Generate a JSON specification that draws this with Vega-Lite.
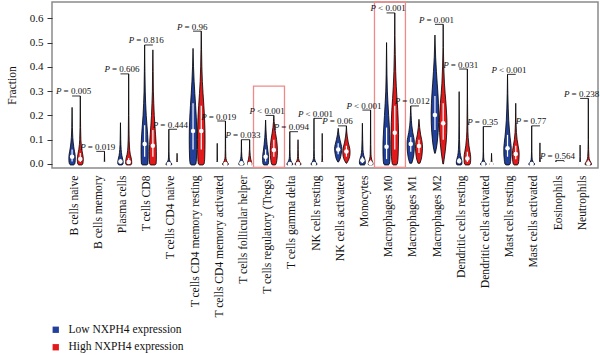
{
  "$schema": "https://vega.github.io/schema/vega-lite/v6.json",
  "width": 546,
  "height": 166,
  "autosize": {"type": "none"},
  "padding": {"left": 52, "top": 2, "right": 2, "bottom": 187},
  "params": [
    {"name": "cells", "value": ["B cells naive", "B cells memory", "Plasma cells", "T cells CD8", "T cells CD4 naive", "T cells CD4 memory resting", "T cells CD4 memory activated", "T cells follicular helper", "T cells regulatory (Tregs)", "T cells gamma delta", "NK cells resting", "NK cells activated", "Monocytes", "Macrophages M0", "Macrophages M1", "Macrophages M2", "Dendritic cells resting", "Dendritic cells activated", "Mast cells resting", "Mast cells activated", "Eosinophils", "Neutrophils"]}
  ],
  "config": {
    "font": "Liberation Serif",
    "view": {"stroke": "#8a8a8a", "strokeWidth": 1.5},
    "axis": {"labelFont": "Liberation Serif", "titleFont": "Liberation Serif", "labelColor": "#111", "titleColor": "#111", "grid": false},
    "axisX": {"labelAngle": -90, "labelFontSize": 11.6, "ticks": false, "domain": false, "labelPadding": 7, "labelOffset": -2, "labelBound": false, "labelOverlap": false, "labelFlush": false, "tickCount": 40},
    "axisY": {"domain": false, "tickSize": 5, "tickColor": "#333", "labelFontSize": 11, "labelPadding": 4, "labelOverlap": false, "labelFlush": false, "titleFontSize": 11.5, "titleFontWeight": "normal", "titlePadding": 12, "tickCount": 12},
    "legend": {"labelFont": "Liberation Serif"}
  },
  "datasets": {
    "violins": [
      {"cell": "B cells naive", "g": "Low", "v": [-0.004,0,0.015,0.03,0.05,0.07,0.11,0.15,0.233], "w": [1.5,2.6,3.2,3.2,2.5,1.7,0.7,0.3,0]},
      {"cell": "B cells naive", "g": "High", "v": [-0.004,0,0.02,0.04,0.06,0.1,0.15,0.28], "w": [1.5,2.5,3,2.4,1.5,0.6,0.3,0]},
      {"cell": "B cells memory", "g": "Low", "v": [-0.003,0,0.004], "w": [0.5,0.8,0]},
      {"cell": "B cells memory", "g": "High", "v": [-0.003,0,0.01,0.052], "w": [0.6,0.8,0.2,0]},
      {"cell": "Plasma cells", "g": "Low", "v": [-0.004,0,0.01,0.02,0.035,0.06,0.1,0.17], "w": [1.5,2.6,2.7,2.2,1.4,0.7,0.3,0]},
      {"cell": "Plasma cells", "g": "High", "v": [-0.004,0,0.01,0.025,0.04,0.07,0.12,0.2,0.371], "w": [1.8,3,3,2.5,1.6,0.8,0.4,0.2,0]},
      {"cell": "T cells CD8", "g": "Low", "v": [-0.004,0,0.02,0.05,0.08,0.12,0.16,0.2,0.25,0.3,0.38,0.49], "w": [2,3.2,3.5,3.6,3.5,3.0,2.3,1.6,1.0,0.6,0.3,0]},
      {"cell": "T cells CD8", "g": "High", "v": [-0.004,0,0.02,0.05,0.08,0.12,0.16,0.2,0.25,0.3,0.38,0.47], "w": [2,3.2,3.5,3.5,3.3,2.7,2.0,1.4,0.9,0.5,0.3,0]},
      {"cell": "T cells CD4 naive", "g": "Low", "v": [-0.004,0,0.005,0.012,0.025,0.05,0.143], "w": [2.5,3,2,1,0.4,0.2,0]},
      {"cell": "T cells CD4 naive", "g": "High", "v": [-0.004,0,0.005,0.015,0.044], "w": [0.8,1,0.5,0.2,0]},
      {"cell": "T cells CD4 memory resting", "g": "Low", "v": [-0.004,0,0.02,0.06,0.1,0.14,0.19,0.24,0.29,0.34,0.4,0.476], "w": [1.5,2.8,3.4,3.7,3.8,3.7,3.3,2.6,1.8,1.1,0.5,0]},
      {"cell": "T cells CD4 memory resting", "g": "High", "v": [-0.004,0,0.02,0.06,0.1,0.14,0.19,0.24,0.29,0.34,0.4,0.47,0.547], "w": [1.5,2.8,3.4,3.7,3.8,3.7,3.3,2.6,1.8,1.1,0.6,0.3,0]},
      {"cell": "T cells CD4 memory activated", "g": "Low", "v": [-0.004,0,0.005,0.015,0.085], "w": [0.8,1,0.5,0.2,0]},
      {"cell": "T cells CD4 memory activated", "g": "High", "v": [-0.004,0,0.006,0.015,0.03,0.06,0.177], "w": [2.5,3,2,1,0.4,0.2,0]},
      {"cell": "T cells follicular helper", "g": "Low", "v": [-0.004,0,0.006,0.015,0.03,0.05,0.1], "w": [2.2,2.7,2.2,1.2,0.5,0.2,0]},
      {"cell": "T cells follicular helper", "g": "High", "v": [-0.004,0,0.01,0.02,0.035,0.06,0.1], "w": [1.8,2.2,1.8,1.1,0.6,0.2,0]},
      {"cell": "T cells regulatory (Tregs)", "g": "Low", "v": [-0.004,0,0.015,0.03,0.05,0.08,0.11,0.14,0.181], "w": [1.8,2.6,3,3,2.4,1.5,0.8,0.4,0]},
      {"cell": "T cells regulatory (Tregs)", "g": "High", "v": [-0.004,0,0.015,0.035,0.055,0.075,0.1,0.125,0.15,0.2], "w": [1.5,2.2,3,3.5,3.6,3.4,2.8,1.8,0.9,0]},
      {"cell": "T cells gamma delta", "g": "Low", "v": [-0.004,0,0.006,0.015,0.03,0.06,0.133], "w": [2.5,3,2,1,0.4,0.2,0]},
      {"cell": "T cells gamma delta", "g": "High", "v": [-0.004,0,0.006,0.015,0.03,0.06,0.1], "w": [2.5,3,2,1,0.4,0.2,0]},
      {"cell": "NK cells resting", "g": "Low", "v": [-0.004,0,0.006,0.015,0.03,0.06,0.188], "w": [2.5,3,2,1,0.4,0.2,0]},
      {"cell": "NK cells resting", "g": "High", "v": [-0.004,0,0.005,0.015,0.04,0.126], "w": [1,1.2,0.6,0.3,0.1,0]},
      {"cell": "NK cells activated", "g": "Low", "v": [0.008,0.02,0.04,0.055,0.065,0.08,0.1,0.12,0.147], "w": [0.3,1.8,3.0,3.5,3.6,3.0,1.8,0.8,0]},
      {"cell": "NK cells activated", "g": "High", "v": [0.003,0.015,0.03,0.045,0.055,0.07,0.09,0.115,0.157], "w": [0.3,2.0,3.2,3.6,3.6,3.0,1.8,0.8,0]},
      {"cell": "Monocytes", "g": "Low", "v": [-0.004,0,0.01,0.02,0.035,0.06,0.1,0.168], "w": [2,2.8,3,2.5,1.4,0.6,0.3,0]},
      {"cell": "Monocytes", "g": "High", "v": [-0.004,0,0.008,0.02,0.04,0.08,0.222], "w": [1.8,2.4,2,1,0.4,0.2,0]},
      {"cell": "Macrophages M0", "g": "Low", "v": [-0.004,0,0.02,0.05,0.08,0.12,0.16,0.2,0.25,0.3,0.37,0.5], "w": [1.8,2.8,3.4,3.6,3.6,3.2,2.7,2.1,1.4,0.8,0.4,0]},
      {"cell": "Macrophages M0", "g": "High", "v": [-0.004,0,0.03,0.07,0.12,0.17,0.22,0.27,0.32,0.38,0.45,0.53,0.622], "w": [1.5,2.5,3.3,3.6,3.8,3.5,3.0,2.2,1.5,0.9,0.5,0.2,0]},
      {"cell": "Macrophages M1", "g": "Low", "v": [0.003,0.02,0.045,0.07,0.09,0.11,0.13,0.16,0.2,0.239], "w": [1,2.2,3.2,3.6,3.6,3.0,2.0,1.0,0.4,0]},
      {"cell": "Macrophages M1", "g": "High", "v": [0.003,0.02,0.045,0.065,0.08,0.1,0.12,0.15,0.184], "w": [1,2.3,3.2,3.5,3.4,2.7,1.7,0.7,0]},
      {"cell": "Macrophages M2", "g": "Low", "v": [0.044,0.06,0.09,0.13,0.17,0.21,0.25,0.29,0.33,0.38,0.44,0.531], "w": [0.3,1.2,2.3,3.2,3.7,3.8,3.5,3.0,2.3,1.5,0.7,0]},
      {"cell": "Macrophages M2", "g": "High", "v": [0,0.02,0.05,0.09,0.13,0.17,0.21,0.25,0.29,0.33,0.4,0.48,0.575], "w": [0.3,1.0,2.0,3.0,3.6,3.8,3.4,2.8,2.0,1.3,0.6,0.2,0]},
      {"cell": "Dendritic cells resting", "g": "Low", "v": [-0.004,0,0.01,0.02,0.035,0.06,0.1,0.16,0.298], "w": [2,2.7,2.8,2.3,1.4,0.7,0.35,0.2,0]},
      {"cell": "Dendritic cells resting", "g": "High", "v": [-0.004,0,0.015,0.03,0.05,0.075,0.11,0.16,0.25,0.391], "w": [1.8,2.8,3.3,3.3,2.6,1.6,0.8,0.4,0.2,0]},
      {"cell": "Dendritic cells activated", "g": "Low", "v": [-0.004,0,0.005,0.012,0.025,0.05,0.154], "w": [2.5,3,2,1,0.4,0.2,0]},
      {"cell": "Dendritic cells activated", "g": "High", "v": [-0.004,0,0.005,0.012,0.044], "w": [1.5,1.8,1,0.3,0]},
      {"cell": "Mast cells resting", "g": "Low", "v": [-0.004,0,0.02,0.045,0.065,0.085,0.11,0.14,0.18,0.23,0.29,0.369], "w": [1.5,2.6,3.3,3.7,3.7,3.3,2.6,1.9,1.2,0.7,0.3,0]},
      {"cell": "Mast cells resting", "g": "High", "v": [-0.004,0,0.02,0.04,0.055,0.075,0.1,0.13,0.17,0.25], "w": [1.5,2.5,3.2,3.4,3.2,2.4,1.4,0.7,0.3,0]},
      {"cell": "Mast cells activated", "g": "Low", "v": [-0.004,0,0.005,0.012,0.025,0.05,0.157], "w": [2.5,3,2,1,0.4,0.2,0]},
      {"cell": "Mast cells activated", "g": "High", "v": [-0.004,0,0.005,0.012,0.03,0.087], "w": [1,1.2,0.6,0.3,0.1,0]},
      {"cell": "Eosinophils", "g": "Low", "v": [-0.003,0,0.004,0.014], "w": [0.6,0.8,0.3,0]},
      {"cell": "Eosinophils", "g": "High", "v": [-0.003,0,0.003,0.01], "w": [0.6,0.8,0.3,0]},
      {"cell": "Neutrophils", "g": "Low", "v": [-0.004,0,0.005,0.012,0.03,0.078], "w": [1.2,1.5,0.8,0.3,0.1,0]},
      {"cell": "Neutrophils", "g": "High", "v": [-0.004,0,0.006,0.015,0.03,0.06,0.1,0.27], "w": [2.8,3.3,2.6,1.4,0.6,0.3,0.15,0]}
    ],
    "stats": [
      {"cell": "B cells naive", "g": "Low", "med": 0.03, "q1": 0.01, "q3": 0.06},
      {"cell": "B cells naive", "g": "High", "med": 0.021, "q1": 0.008, "q3": 0.045},
      {"cell": "B cells memory", "g": "Low", "med": 0, "q1": 0, "q3": 0.001},
      {"cell": "B cells memory", "g": "High", "med": 0, "q1": 0, "q3": 0.002},
      {"cell": "Plasma cells", "g": "Low", "med": 0.01, "q1": 0.002, "q3": 0.02},
      {"cell": "Plasma cells", "g": "High", "med": 0.008, "q1": 0.002, "q3": 0.025},
      {"cell": "T cells CD8", "g": "Low", "med": 0.082, "q1": 0.03, "q3": 0.16},
      {"cell": "T cells CD8", "g": "High", "med": 0.075, "q1": 0.03, "q3": 0.14},
      {"cell": "T cells CD4 naive", "g": "Low", "med": 0, "q1": 0, "q3": 0.003},
      {"cell": "T cells CD4 naive", "g": "High", "med": 0, "q1": 0, "q3": 0.002},
      {"cell": "T cells CD4 memory resting", "g": "Low", "med": 0.136, "q1": 0.06, "q3": 0.25},
      {"cell": "T cells CD4 memory resting", "g": "High", "med": 0.136, "q1": 0.06, "q3": 0.24},
      {"cell": "T cells CD4 memory activated", "g": "Low", "med": 0, "q1": 0, "q3": 0.002},
      {"cell": "T cells CD4 memory activated", "g": "High", "med": 0, "q1": 0, "q3": 0.004},
      {"cell": "T cells follicular helper", "g": "Low", "med": 0.003, "q1": 0, "q3": 0.01},
      {"cell": "T cells follicular helper", "g": "High", "med": 0, "q1": 0, "q3": 0.008},
      {"cell": "T cells regulatory (Tregs)", "g": "Low", "med": 0.03, "q1": 0.01, "q3": 0.06},
      {"cell": "T cells regulatory (Tregs)", "g": "High", "med": 0.058, "q1": 0.03, "q3": 0.1},
      {"cell": "T cells gamma delta", "g": "Low", "med": 0, "q1": 0, "q3": 0.003},
      {"cell": "T cells gamma delta", "g": "High", "med": 0, "q1": 0, "q3": 0.003},
      {"cell": "NK cells resting", "g": "Low", "med": 0, "q1": 0, "q3": 0.004},
      {"cell": "NK cells resting", "g": "High", "med": 0, "q1": 0, "q3": 0.002},
      {"cell": "NK cells activated", "g": "Low", "med": 0.06, "q1": 0.04, "q3": 0.085},
      {"cell": "NK cells activated", "g": "High", "med": 0.051, "q1": 0.03, "q3": 0.075},
      {"cell": "Monocytes", "g": "Low", "med": 0.015, "q1": 0.004, "q3": 0.03},
      {"cell": "Monocytes", "g": "High", "med": 0.003, "q1": 0, "q3": 0.015},
      {"cell": "Macrophages M0", "g": "Low", "med": 0.071, "q1": 0.02, "q3": 0.15},
      {"cell": "Macrophages M0", "g": "High", "med": 0.129, "q1": 0.06, "q3": 0.24},
      {"cell": "Macrophages M1", "g": "Low", "med": 0.082, "q1": 0.05, "q3": 0.11},
      {"cell": "Macrophages M1", "g": "High", "med": 0.074, "q1": 0.045, "q3": 0.1},
      {"cell": "Macrophages M2", "g": "Low", "med": 0.202, "q1": 0.14, "q3": 0.28},
      {"cell": "Macrophages M2", "g": "High", "med": 0.168, "q1": 0.1, "q3": 0.25},
      {"cell": "Dendritic cells resting", "g": "Low", "med": 0.012, "q1": 0.002, "q3": 0.025},
      {"cell": "Dendritic cells resting", "g": "High", "med": 0.023, "q1": 0.008, "q3": 0.05},
      {"cell": "Dendritic cells activated", "g": "Low", "med": 0, "q1": 0, "q3": 0.003},
      {"cell": "Dendritic cells activated", "g": "High", "med": 0, "q1": 0, "q3": 0.002},
      {"cell": "Mast cells resting", "g": "Low", "med": 0.065, "q1": 0.03, "q3": 0.12},
      {"cell": "Mast cells resting", "g": "High", "med": 0.041, "q1": 0.02, "q3": 0.075},
      {"cell": "Mast cells activated", "g": "Low", "med": 0, "q1": 0, "q3": 0.003},
      {"cell": "Mast cells activated", "g": "High", "med": 0, "q1": 0, "q3": 0.002},
      {"cell": "Eosinophils", "g": "Low", "med": 0, "q1": 0, "q3": 0},
      {"cell": "Eosinophils", "g": "High", "med": 0, "q1": 0, "q3": 0},
      {"cell": "Neutrophils", "g": "Low", "med": 0, "q1": 0, "q3": 0.002},
      {"cell": "Neutrophils", "g": "High", "med": 0.002, "q1": 0, "q3": 0.015}
    ],
    "pvals": [
      {"cell": "B cells naive", "p": "= 0.005", "top": 0.28},
      {"cell": "B cells memory", "p": "= 0.019", "top": 0.052},
      {"cell": "Plasma cells", "p": "= 0.606", "top": 0.371},
      {"cell": "T cells CD8", "p": "= 0.816", "top": 0.49},
      {"cell": "T cells CD4 naive", "p": "= 0.444", "top": 0.143},
      {"cell": "T cells CD4 memory resting", "p": "= 0.96", "top": 0.547},
      {"cell": "T cells CD4 memory activated", "p": "= 0.019", "top": 0.177},
      {"cell": "T cells follicular helper", "p": "= 0.033", "top": 0.1},
      {"cell": "T cells regulatory (Tregs)", "p": "< 0.001", "top": 0.2},
      {"cell": "T cells gamma delta", "p": "= 0.094", "top": 0.133},
      {"cell": "NK cells resting", "p": "< 0.001", "top": 0.188},
      {"cell": "NK cells activated", "p": "= 0.06", "top": 0.157},
      {"cell": "Monocytes", "p": "< 0.001", "top": 0.222},
      {"cell": "Macrophages M0", "p": "< 0.001", "top": 0.622},
      {"cell": "Macrophages M1", "p": "= 0.012", "top": 0.239},
      {"cell": "Macrophages M2", "p": "= 0.001", "top": 0.575},
      {"cell": "Dendritic cells resting", "p": "= 0.031", "top": 0.391},
      {"cell": "Dendritic cells activated", "p": "= 0.35", "top": 0.154},
      {"cell": "Mast cells resting", "p": "< 0.001", "top": 0.369},
      {"cell": "Mast cells activated", "p": "= 0.77", "top": 0.157},
      {"cell": "Eosinophils", "p": "= 0.564", "top": 0.014},
      {"cell": "Neutrophils", "p": "= 0.238", "top": 0.27}
    ],
    "hl": [
      {"cell": "T cells regulatory (Tregs)", "top": 0.321},
      {"cell": "Macrophages M0", "top": 0.667}
    ]
  },
  "layer": [
    {
      "data": {"name": "hl"},
      "transform": [
        {"calculate": "indexof(cells, datum.cell) - 0.67", "as": "bx1"},
        {"calculate": "indexof(cells, datum.cell) + 0.61", "as": "bx2"}
      ],
      "mark": {"type": "rect", "fillOpacity": 0, "stroke": "#f08a8a", "strokeWidth": 1.3, "clip": false},
      "encoding": {
        "x": {"field": "bx1", "type": "quantitative", "title": null, "scale": {"domain": [-1.0, 21.57], "nice": false, "zero": false},
          "axis": {"values": [0,1,2,3,4,5,6,7,8,9,10,11,12,13,14,15,16,17,18,19,20,21], "labelExpr": "cells[datum.value]", "labelOverlap": false, "tickCount": 40}},
        "x2": {"field": "bx2"},
        "y": {"field": "top", "type": "quantitative", "title": "Fraction", "scale": {"domain": [-0.0165, 0.667], "nice": false, "zero": false},
          "axis": {"values": [0,0.1,0.2,0.3,0.4,0.5,0.6], "format": ".1f", "labelOverlap": false, "tickCount": 12}},
        "y2": {"datum": -0.014}
      }
    },
    {
      "data": {"name": "violins"},
      "transform": [
        {"flatten": ["v", "w"]},
        {"calculate": "indexof(cells, datum.cell) + (datum.g == 'Low' ? -0.17 : 0.17)", "as": "xc"},
        {"calculate": "datum.xc - datum.w / 24.19", "as": "xl"},
        {"calculate": "datum.xc + datum.w / 24.19", "as": "xr"}
      ],
      "mark": {"type": "area", "orient": "horizontal", "interpolate": "monotone", "stroke": "black", "strokeWidth": 0.8},
      "encoding": {
        "y": {"field": "v", "type": "quantitative", "title": "Fraction", "scale": {"domain": [-0.0165, 0.667], "nice": false, "zero": false}},
        "x": {"field": "xl", "type": "quantitative", "stack": null, "title": null, "scale": {"domain": [-1.0, 21.57], "nice": false, "zero": false}},
        "x2": {"field": "xr"},
        "fill": {"field": "g", "type": "nominal", "scale": {"domain": ["Low", "High"], "range": ["#22409a", "#e31a1c"]},
          "legend": {"title": null, "orient": "none", "legendX": -2, "legendY": 322, "symbolType": "square", "symbolSize": 40, "symbolStrokeWidth": 0, "labelFontSize": 11.5, "labelColor": "#111", "labelOffset": 7, "rowPadding": 4.5, "labelExpr": "datum.label + ' NXPH4 expression'"}},
        "detail": {"field": "cell"}
      }
    },
    {
      "data": {"name": "stats"},
      "transform": [
        {"calculate": "indexof(cells, datum.cell) + (datum.g == 'Low' ? -0.17 : 0.17)", "as": "xc"}
      ],
      "layer": [
        {
          "mark": {"type": "rule", "stroke": "white", "strokeWidth": 1.2},
          "encoding": {
            "x": {"field": "xc", "type": "quantitative", "title": null, "scale": {"domain": [-1.0, 21.57], "nice": false, "zero": false}},
            "y": {"field": "q1", "type": "quantitative", "title": "Fraction", "scale": {"domain": [-0.0165, 0.667], "nice": false, "zero": false}},
            "y2": {"field": "q3"}
          }
        },
        {
          "mark": {"type": "point", "filled": true, "fill": "white", "opacity": 1, "strokeWidth": 0, "size": 20, "shape": "circle"},
          "encoding": {
            "x": {"field": "xc", "type": "quantitative", "title": null, "scale": {"domain": [-1.0, 21.57], "nice": false, "zero": false}},
            "y": {"field": "med", "type": "quantitative", "title": "Fraction", "scale": {"domain": [-0.0165, 0.667], "nice": false, "zero": false}}
          }
        }
      ]
    },
    {
      "data": {"name": "pvals"},
      "transform": [
        {"calculate": "indexof(cells, datum.cell) - 0.17", "as": "xb1"},
        {"calculate": "indexof(cells, datum.cell) + 0.17", "as": "xb2"}
      ],
      "layer": [
        {
          "mark": {"type": "rule", "stroke": "black", "strokeWidth": 0.8},
          "encoding": {
            "x": {"field": "xb1", "type": "quantitative", "title": null, "scale": {"domain": [-1.0, 21.57], "nice": false, "zero": false}},
            "x2": {"field": "xb2"},
            "y": {"field": "top", "type": "quantitative", "title": "Fraction", "scale": {"domain": [-0.0165, 0.667], "nice": false, "zero": false}}
          }
        },
        {
          "mark": {"type": "text", "text": "P", "align": "right", "baseline": "alphabetic", "dx": -10.5, "dy": -1.5, "fontStyle": "italic", "fontSize": 9, "font": "Liberation Serif", "color": "#111"},
          "encoding": {
            "x": {"field": "xb1", "type": "quantitative", "title": null, "scale": {"domain": [-1.0, 21.57], "nice": false, "zero": false}},
            "y": {"field": "top", "type": "quantitative", "title": "Fraction", "scale": {"domain": [-0.0165, 0.667], "nice": false, "zero": false}}
          }
        },
        {
          "mark": {"type": "text", "align": "left", "baseline": "alphabetic", "dx": -8.5, "dy": -1.5, "fontSize": 9, "font": "Liberation Serif", "color": "#111"},
          "encoding": {
            "x": {"field": "xb1", "type": "quantitative", "title": null, "scale": {"domain": [-1.0, 21.57], "nice": false, "zero": false}},
            "y": {"field": "top", "type": "quantitative", "title": "Fraction", "scale": {"domain": [-0.0165, 0.667], "nice": false, "zero": false}},
            "text": {"field": "p"}
          }
        }
      ]
    }
  ]
}
